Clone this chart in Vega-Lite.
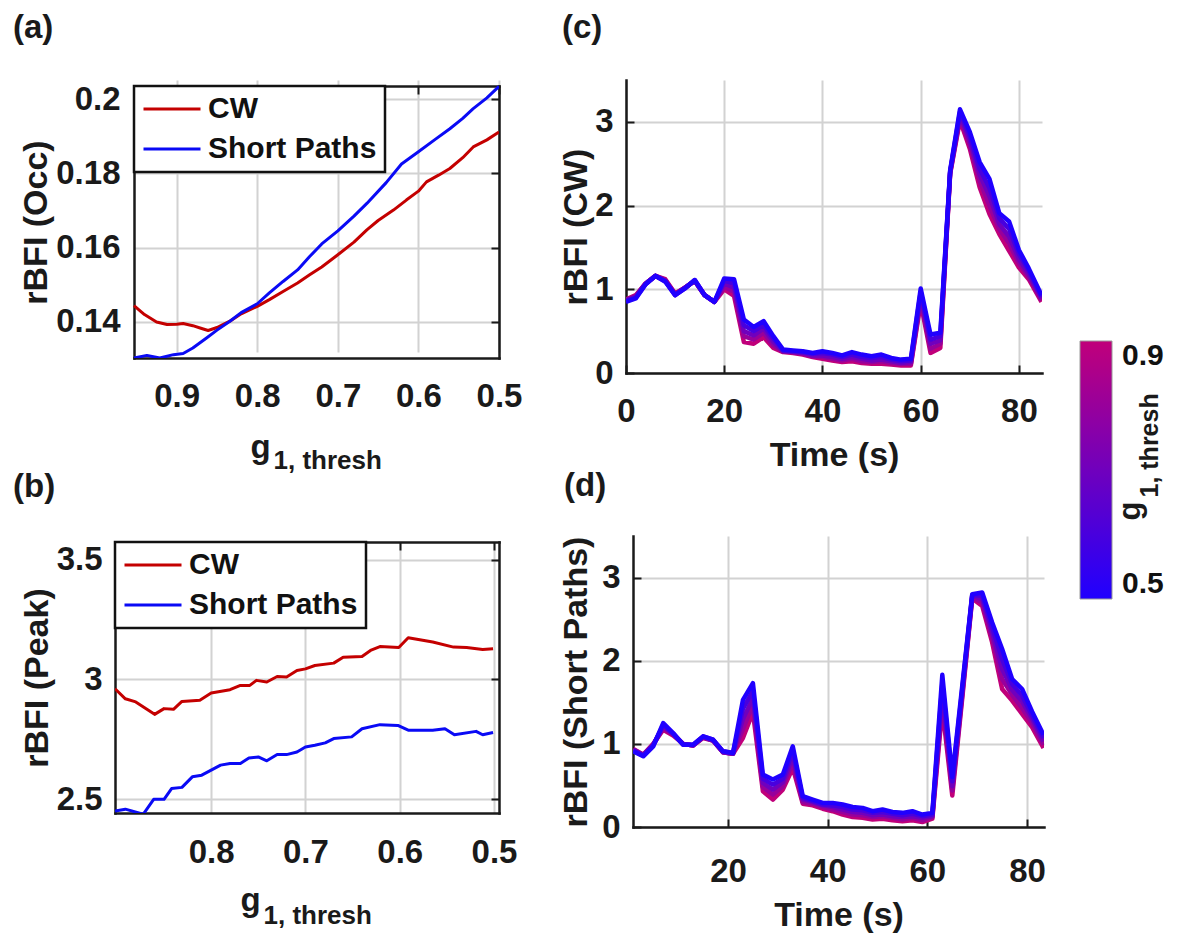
{
"$schema":"https://vega.github.io/schema/vega-lite/v6.json",
"padding":{"left":13,"top":12,"right":5,"bottom":5},
"config":{
 "font":"Liberation Sans",
 "view":{"stroke":null},
 "axis":{"labelFont":"Liberation Sans","labelFontSize":33,"labelFontWeight":"bold","labelColor":"#1a1a1a","titleFont":"Liberation Sans","titleFontSize":34,"titleFontWeight":"bold","titleColor":"#1a1a1a","domainColor":"#1a1a1a","domainWidth":2.5,"domainCap":"square","tickColor":"#1a1a1a","tickWidth":2,"gridColor":"#d2d2d2","gridWidth":2,"labelFlush":false,"labelOverlap":false,"ticks":false},
 "legend":{"strokeWidth":2.5,"labelFont":"Liberation Sans"},
 "title":{"font":"Liberation Sans","fontSize":33,"fontWeight":"bold","color":"#1a1a1a","anchor":"start","frame":"group"},
 "line":{"strokeJoin":"round"}
},
"datasets":{
"A":[
{"s":"CW","g":0.953,"v":0.1444},{"s":"CW","g":0.94,"v":0.1420},{"s":"CW","g":0.925,"v":0.1400},{"s":"CW","g":0.912,"v":0.1393},{"s":"CW","g":0.90,"v":0.1394},{"s":"CW","g":0.892,"v":0.1396},{"s":"CW","g":0.88,"v":0.1390},{"s":"CW","g":0.87,"v":0.1383},{"s":"CW","g":0.861,"v":0.1377},{"s":"CW","g":0.85,"v":0.1385},{"s":"CW","g":0.834,"v":0.1402},{"s":"CW","g":0.82,"v":0.1422},{"s":"CW","g":0.80,"v":0.1442},{"s":"CW","g":0.785,"v":0.1460},{"s":"CW","g":0.768,"v":0.1482},{"s":"CW","g":0.75,"v":0.1505},{"s":"CW","g":0.735,"v":0.1527},{"s":"CW","g":0.72,"v":0.1548},{"s":"CW","g":0.70,"v":0.1581},{"s":"CW","g":0.68,"v":0.1615},{"s":"CW","g":0.664,"v":0.1648},{"s":"CW","g":0.65,"v":0.1673},{"s":"CW","g":0.631,"v":0.1701},{"s":"CW","g":0.615,"v":0.1728},{"s":"CW","g":0.60,"v":0.1752},{"s":"CW","g":0.59,"v":0.1777},{"s":"CW","g":0.575,"v":0.1795},{"s":"CW","g":0.561,"v":0.1813},{"s":"CW","g":0.545,"v":0.1842},{"s":"CW","g":0.532,"v":0.1871},{"s":"CW","g":0.515,"v":0.1890},{"s":"CW","g":0.50,"v":0.1911},
{"s":"Short Paths","g":0.953,"v":0.1303},{"s":"Short Paths","g":0.937,"v":0.1310},{"s":"Short Paths","g":0.921,"v":0.1303},{"s":"Short Paths","g":0.904,"v":0.1312},{"s":"Short Paths","g":0.892,"v":0.1315},{"s":"Short Paths","g":0.88,"v":0.1330},{"s":"Short Paths","g":0.863,"v":0.1357},{"s":"Short Paths","g":0.85,"v":0.1378},{"s":"Short Paths","g":0.834,"v":0.1402},{"s":"Short Paths","g":0.82,"v":0.1425},{"s":"Short Paths","g":0.80,"v":0.1449},{"s":"Short Paths","g":0.785,"v":0.1478},{"s":"Short Paths","g":0.768,"v":0.1509},{"s":"Short Paths","g":0.75,"v":0.1540},{"s":"Short Paths","g":0.735,"v":0.1576},{"s":"Short Paths","g":0.72,"v":0.1610},{"s":"Short Paths","g":0.70,"v":0.1645},{"s":"Short Paths","g":0.68,"v":0.1685},{"s":"Short Paths","g":0.664,"v":0.1719},{"s":"Short Paths","g":0.64,"v":0.1775},{"s":"Short Paths","g":0.621,"v":0.1825},{"s":"Short Paths","g":0.60,"v":0.1858},{"s":"Short Paths","g":0.58,"v":0.1890},{"s":"Short Paths","g":0.561,"v":0.1920},{"s":"Short Paths","g":0.545,"v":0.1948},{"s":"Short Paths","g":0.532,"v":0.1974},{"s":"Short Paths","g":0.515,"v":0.2003},{"s":"Short Paths","g":0.50,"v":0.2034}
],
"B":[
{"s":"CW","g":0.902,"v":2.961},{"s":"CW","g":0.891,"v":2.919},{"s":"CW","g":0.880,"v":2.906},{"s":"CW","g":0.860,"v":2.854},{"s":"CW","g":0.850,"v":2.878},{"s":"CW","g":0.840,"v":2.875},{"s":"CW","g":0.831,"v":2.908},{"s":"CW","g":0.812,"v":2.913},{"s":"CW","g":0.80,"v":2.943},{"s":"CW","g":0.780,"v":2.957},{"s":"CW","g":0.769,"v":2.975},{"s":"CW","g":0.759,"v":2.975},{"s":"CW","g":0.752,"v":2.996},{"s":"CW","g":0.741,"v":2.989},{"s":"CW","g":0.730,"v":3.012},{"s":"CW","g":0.720,"v":3.010},{"s":"CW","g":0.709,"v":3.037},{"s":"CW","g":0.70,"v":3.044},{"s":"CW","g":0.690,"v":3.058},{"s":"CW","g":0.670,"v":3.068},{"s":"CW","g":0.660,"v":3.093},{"s":"CW","g":0.640,"v":3.096},{"s":"CW","g":0.631,"v":3.121},{"s":"CW","g":0.621,"v":3.137},{"s":"CW","g":0.601,"v":3.133},{"s":"CW","g":0.591,"v":3.174},{"s":"CW","g":0.565,"v":3.156},{"s":"CW","g":0.543,"v":3.135},{"s":"CW","g":0.529,"v":3.133},{"s":"CW","g":0.512,"v":3.125},{"s":"CW","g":0.501,"v":3.128},
{"s":"Short Paths","g":0.902,"v":2.450},{"s":"Short Paths","g":0.891,"v":2.458},{"s":"Short Paths","g":0.872,"v":2.437},{"s":"Short Paths","g":0.861,"v":2.499},{"s":"Short Paths","g":0.850,"v":2.499},{"s":"Short Paths","g":0.842,"v":2.544},{"s":"Short Paths","g":0.831,"v":2.549},{"s":"Short Paths","g":0.820,"v":2.593},{"s":"Short Paths","g":0.810,"v":2.600},{"s":"Short Paths","g":0.790,"v":2.642},{"s":"Short Paths","g":0.780,"v":2.649},{"s":"Short Paths","g":0.769,"v":2.649},{"s":"Short Paths","g":0.760,"v":2.672},{"s":"Short Paths","g":0.750,"v":2.676},{"s":"Short Paths","g":0.741,"v":2.660},{"s":"Short Paths","g":0.730,"v":2.686},{"s":"Short Paths","g":0.720,"v":2.686},{"s":"Short Paths","g":0.709,"v":2.697},{"s":"Short Paths","g":0.70,"v":2.718},{"s":"Short Paths","g":0.690,"v":2.725},{"s":"Short Paths","g":0.679,"v":2.735},{"s":"Short Paths","g":0.670,"v":2.753},{"s":"Short Paths","g":0.651,"v":2.760},{"s":"Short Paths","g":0.640,"v":2.794},{"s":"Short Paths","g":0.621,"v":2.811},{"s":"Short Paths","g":0.602,"v":2.808},{"s":"Short Paths","g":0.591,"v":2.788},{"s":"Short Paths","g":0.565,"v":2.788},{"s":"Short Paths","g":0.552,"v":2.794},{"s":"Short Paths","g":0.542,"v":2.769},{"s":"Short Paths","g":0.519,"v":2.783},{"s":"Short Paths","g":0.512,"v":2.769},{"s":"Short Paths","g":0.501,"v":2.778}
],
"C":[
{"g":0.9,"t":0,"v":0.88},{"g":0.9,"t":2,"v":0.93},{"g":0.9,"t":4,"v":1.07},{"g":0.9,"t":6,"v":1.16},{"g":0.9,"t":8,"v":1.12},{"g":0.9,"t":10,"v":0.95},{"g":0.9,"t":12,"v":1.02},{"g":0.9,"t":14,"v":1.10},{"g":0.9,"t":16,"v":0.93},{"g":0.9,"t":18,"v":0.85},{"g":0.9,"t":20,"v":1.00},{"g":0.9,"t":22,"v":0.92},{"g":0.9,"t":24,"v":0.37},{"g":0.9,"t":26,"v":0.35},{"g":0.9,"t":28,"v":0.43},{"g":0.9,"t":30,"v":0.30},{"g":0.9,"t":32,"v":0.25},{"g":0.9,"t":34,"v":0.24},{"g":0.9,"t":36,"v":0.22},{"g":0.9,"t":38,"v":0.19},{"g":0.9,"t":40,"v":0.17},{"g":0.9,"t":42,"v":0.15},{"g":0.9,"t":44,"v":0.13},{"g":0.9,"t":46,"v":0.14},{"g":0.9,"t":48,"v":0.12},{"g":0.9,"t":50,"v":0.11},{"g":0.9,"t":52,"v":0.11},{"g":0.9,"t":54,"v":0.10},{"g":0.9,"t":56,"v":0.09},{"g":0.9,"t":58,"v":0.09},{"g":0.9,"t":60,"v":0.84},{"g":0.9,"t":62,"v":0.24},{"g":0.9,"t":64,"v":0.30},{"g":0.9,"t":66,"v":2.38},{"g":0.9,"t":68,"v":3.02},{"g":0.9,"t":70,"v":2.68},{"g":0.9,"t":72,"v":2.22},{"g":0.9,"t":74,"v":1.90},{"g":0.9,"t":76,"v":1.66},{"g":0.9,"t":78,"v":1.46},{"g":0.9,"t":80,"v":1.26},{"g":0.9,"t":82,"v":1.12},{"g":0.9,"t":84.6,"v":0.85},
{"g":0.8,"t":0,"v":0.87},{"g":0.8,"t":2,"v":0.92},{"g":0.8,"t":4,"v":1.07},{"g":0.8,"t":6,"v":1.16},{"g":0.8,"t":8,"v":1.11},{"g":0.8,"t":10,"v":0.94},{"g":0.8,"t":12,"v":1.02},{"g":0.8,"t":14,"v":1.10},{"g":0.8,"t":16,"v":0.93},{"g":0.8,"t":18,"v":0.85},{"g":0.8,"t":20,"v":1.03},{"g":0.8,"t":22,"v":0.97},{"g":0.8,"t":24,"v":0.44},{"g":0.8,"t":26,"v":0.40},{"g":0.8,"t":28,"v":0.48},{"g":0.8,"t":30,"v":0.33},{"g":0.8,"t":32,"v":0.26},{"g":0.8,"t":34,"v":0.25},{"g":0.8,"t":36,"v":0.23},{"g":0.8,"t":38,"v":0.20},{"g":0.8,"t":40,"v":0.19},{"g":0.8,"t":42,"v":0.17},{"g":0.8,"t":44,"v":0.15},{"g":0.8,"t":46,"v":0.17},{"g":0.8,"t":48,"v":0.14},{"g":0.8,"t":50,"v":0.13},{"g":0.8,"t":52,"v":0.14},{"g":0.8,"t":54,"v":0.12},{"g":0.8,"t":56,"v":0.11},{"g":0.8,"t":58,"v":0.11},{"g":0.8,"t":60,"v":0.88},{"g":0.8,"t":62,"v":0.29},{"g":0.8,"t":64,"v":0.35},{"g":0.8,"t":66,"v":2.39},{"g":0.8,"t":68,"v":3.05},{"g":0.8,"t":70,"v":2.73},{"g":0.8,"t":72,"v":2.30},{"g":0.8,"t":74,"v":2.00},{"g":0.8,"t":76,"v":1.72},{"g":0.8,"t":78,"v":1.55},{"g":0.8,"t":80,"v":1.31},{"g":0.8,"t":82,"v":1.15},{"g":0.8,"t":84.6,"v":0.87},
{"g":0.7,"t":0,"v":0.87},{"g":0.7,"t":2,"v":0.91},{"g":0.7,"t":4,"v":1.07},{"g":0.7,"t":6,"v":1.16},{"g":0.7,"t":8,"v":1.10},{"g":0.7,"t":10,"v":0.94},{"g":0.7,"t":12,"v":1.02},{"g":0.7,"t":14,"v":1.10},{"g":0.7,"t":16,"v":0.93},{"g":0.7,"t":18,"v":0.85},{"g":0.7,"t":20,"v":1.07},{"g":0.7,"t":22,"v":1.02},{"g":0.7,"t":24,"v":0.50},{"g":0.7,"t":26,"v":0.45},{"g":0.7,"t":28,"v":0.53},{"g":0.7,"t":30,"v":0.37},{"g":0.7,"t":32,"v":0.26},{"g":0.7,"t":34,"v":0.25},{"g":0.7,"t":36,"v":0.24},{"g":0.7,"t":38,"v":0.21},{"g":0.7,"t":40,"v":0.21},{"g":0.7,"t":42,"v":0.19},{"g":0.7,"t":44,"v":0.17},{"g":0.7,"t":46,"v":0.19},{"g":0.7,"t":48,"v":0.17},{"g":0.7,"t":50,"v":0.15},{"g":0.7,"t":52,"v":0.16},{"g":0.7,"t":54,"v":0.14},{"g":0.7,"t":56,"v":0.12},{"g":0.7,"t":58,"v":0.13},{"g":0.7,"t":60,"v":0.92},{"g":0.7,"t":62,"v":0.35},{"g":0.7,"t":64,"v":0.39},{"g":0.7,"t":66,"v":2.40},{"g":0.7,"t":68,"v":3.08},{"g":0.7,"t":70,"v":2.78},{"g":0.7,"t":72,"v":2.37},{"g":0.7,"t":74,"v":2.11},{"g":0.7,"t":76,"v":1.78},{"g":0.7,"t":78,"v":1.63},{"g":0.7,"t":80,"v":1.36},{"g":0.7,"t":82,"v":1.18},{"g":0.7,"t":84.6,"v":0.89},
{"g":0.6,"t":0,"v":0.86},{"g":0.6,"t":2,"v":0.90},{"g":0.6,"t":4,"v":1.06},{"g":0.6,"t":6,"v":1.16},{"g":0.6,"t":8,"v":1.10},{"g":0.6,"t":10,"v":0.93},{"g":0.6,"t":12,"v":1.01},{"g":0.6,"t":14,"v":1.11},{"g":0.6,"t":16,"v":0.93},{"g":0.6,"t":18,"v":0.85},{"g":0.6,"t":20,"v":1.10},{"g":0.6,"t":22,"v":1.07},{"g":0.6,"t":24,"v":0.57},{"g":0.6,"t":26,"v":0.50},{"g":0.6,"t":28,"v":0.57},{"g":0.6,"t":30,"v":0.41},{"g":0.6,"t":32,"v":0.27},{"g":0.6,"t":34,"v":0.26},{"g":0.6,"t":36,"v":0.25},{"g":0.6,"t":38,"v":0.23},{"g":0.6,"t":40,"v":0.24},{"g":0.6,"t":42,"v":0.22},{"g":0.6,"t":44,"v":0.19},{"g":0.6,"t":46,"v":0.22},{"g":0.6,"t":48,"v":0.19},{"g":0.6,"t":50,"v":0.18},{"g":0.6,"t":52,"v":0.19},{"g":0.6,"t":54,"v":0.16},{"g":0.6,"t":56,"v":0.14},{"g":0.6,"t":58,"v":0.15},{"g":0.6,"t":60,"v":0.97},{"g":0.6,"t":62,"v":0.40},{"g":0.6,"t":64,"v":0.44},{"g":0.6,"t":66,"v":2.41},{"g":0.6,"t":68,"v":3.12},{"g":0.6,"t":70,"v":2.83},{"g":0.6,"t":72,"v":2.44},{"g":0.6,"t":74,"v":2.21},{"g":0.6,"t":76,"v":1.85},{"g":0.6,"t":78,"v":1.72},{"g":0.6,"t":80,"v":1.42},{"g":0.6,"t":82,"v":1.22},{"g":0.6,"t":84.6,"v":0.91},
{"g":0.5,"t":0,"v":0.85},{"g":0.5,"t":2,"v":0.89},{"g":0.5,"t":4,"v":1.06},{"g":0.5,"t":6,"v":1.16},{"g":0.5,"t":8,"v":1.09},{"g":0.5,"t":10,"v":0.93},{"g":0.5,"t":12,"v":1.01},{"g":0.5,"t":14,"v":1.11},{"g":0.5,"t":16,"v":0.93},{"g":0.5,"t":18,"v":0.85},{"g":0.5,"t":20,"v":1.13},{"g":0.5,"t":22,"v":1.12},{"g":0.5,"t":24,"v":0.64},{"g":0.5,"t":26,"v":0.55},{"g":0.5,"t":28,"v":0.62},{"g":0.5,"t":30,"v":0.44},{"g":0.5,"t":32,"v":0.28},{"g":0.5,"t":34,"v":0.27},{"g":0.5,"t":36,"v":0.26},{"g":0.5,"t":38,"v":0.24},{"g":0.5,"t":40,"v":0.26},{"g":0.5,"t":42,"v":0.24},{"g":0.5,"t":44,"v":0.21},{"g":0.5,"t":46,"v":0.25},{"g":0.5,"t":48,"v":0.22},{"g":0.5,"t":50,"v":0.20},{"g":0.5,"t":52,"v":0.22},{"g":0.5,"t":54,"v":0.18},{"g":0.5,"t":56,"v":0.16},{"g":0.5,"t":58,"v":0.17},{"g":0.5,"t":60,"v":1.01},{"g":0.5,"t":62,"v":0.46},{"g":0.5,"t":64,"v":0.48},{"g":0.5,"t":66,"v":2.42},{"g":0.5,"t":68,"v":3.15},{"g":0.5,"t":70,"v":2.88},{"g":0.5,"t":72,"v":2.52},{"g":0.5,"t":74,"v":2.32},{"g":0.5,"t":76,"v":1.91},{"g":0.5,"t":78,"v":1.81},{"g":0.5,"t":80,"v":1.47},{"g":0.5,"t":82,"v":1.25},{"g":0.5,"t":84.6,"v":0.93}
],
"D":[
{"g":0.9,"t":1,"v":0.94},{"g":0.9,"t":3,"v":0.87},{"g":0.9,"t":5,"v":1.00},{"g":0.9,"t":7,"v":1.17},{"g":0.9,"t":9,"v":1.10},{"g":0.9,"t":11,"v":1.00},{"g":0.9,"t":13,"v":0.98},{"g":0.9,"t":15,"v":1.07},{"g":0.9,"t":17,"v":1.04},{"g":0.9,"t":19,"v":0.90},{"g":0.9,"t":21,"v":0.88},{"g":0.9,"t":23,"v":1.07},{"g":0.9,"t":25,"v":1.38},{"g":0.9,"t":27,"v":0.43},{"g":0.9,"t":29,"v":0.33},{"g":0.9,"t":31,"v":0.45},{"g":0.9,"t":33,"v":0.71},{"g":0.9,"t":35,"v":0.28},{"g":0.9,"t":37,"v":0.26},{"g":0.9,"t":39,"v":0.22},{"g":0.9,"t":41,"v":0.19},{"g":0.9,"t":43,"v":0.15},{"g":0.9,"t":45,"v":0.12},{"g":0.9,"t":47,"v":0.11},{"g":0.9,"t":49,"v":0.09},{"g":0.9,"t":51,"v":0.10},{"g":0.9,"t":53,"v":0.08},{"g":0.9,"t":55,"v":0.07},{"g":0.9,"t":57,"v":0.08},{"g":0.9,"t":59,"v":0.06},{"g":0.9,"t":61,"v":0.10},{"g":0.9,"t":63,"v":1.43},{"g":0.9,"t":65,"v":0.38},{"g":0.9,"t":67,"v":1.55},{"g":0.9,"t":69,"v":2.75},{"g":0.9,"t":71,"v":2.66},{"g":0.9,"t":73,"v":2.22},{"g":0.9,"t":75,"v":1.66},{"g":0.9,"t":77,"v":1.52},{"g":0.9,"t":79,"v":1.36},{"g":0.9,"t":81,"v":1.20},{"g":0.9,"t":83.3,"v":0.95},
{"g":0.8,"t":1,"v":0.93},{"g":0.8,"t":3,"v":0.87},{"g":0.8,"t":5,"v":0.99},{"g":0.8,"t":7,"v":1.19},{"g":0.8,"t":9,"v":1.11},{"g":0.8,"t":11,"v":1.00},{"g":0.8,"t":13,"v":0.98},{"g":0.8,"t":15,"v":1.08},{"g":0.8,"t":17,"v":1.04},{"g":0.8,"t":19,"v":0.90},{"g":0.8,"t":21,"v":0.88},{"g":0.8,"t":23,"v":1.18},{"g":0.8,"t":25,"v":1.47},{"g":0.8,"t":27,"v":0.48},{"g":0.8,"t":29,"v":0.39},{"g":0.8,"t":31,"v":0.49},{"g":0.8,"t":33,"v":0.78},{"g":0.8,"t":35,"v":0.30},{"g":0.8,"t":37,"v":0.28},{"g":0.8,"t":39,"v":0.24},{"g":0.8,"t":41,"v":0.21},{"g":0.8,"t":43,"v":0.18},{"g":0.8,"t":45,"v":0.15},{"g":0.8,"t":47,"v":0.14},{"g":0.8,"t":49,"v":0.12},{"g":0.8,"t":51,"v":0.13},{"g":0.8,"t":53,"v":0.11},{"g":0.8,"t":55,"v":0.09},{"g":0.8,"t":57,"v":0.11},{"g":0.8,"t":59,"v":0.08},{"g":0.8,"t":61,"v":0.12},{"g":0.8,"t":63,"v":1.53},{"g":0.8,"t":65,"v":0.44},{"g":0.8,"t":67,"v":1.59},{"g":0.8,"t":69,"v":2.76},{"g":0.8,"t":71,"v":2.70},{"g":0.8,"t":73,"v":2.28},{"g":0.8,"t":75,"v":1.78},{"g":0.8,"t":77,"v":1.59},{"g":0.8,"t":79,"v":1.43},{"g":0.8,"t":81,"v":1.25},{"g":0.8,"t":83.3,"v":0.99},
{"g":0.7,"t":1,"v":0.93},{"g":0.7,"t":3,"v":0.86},{"g":0.7,"t":5,"v":0.99},{"g":0.7,"t":7,"v":1.21},{"g":0.7,"t":9,"v":1.12},{"g":0.7,"t":11,"v":1.00},{"g":0.7,"t":13,"v":0.98},{"g":0.7,"t":15,"v":1.08},{"g":0.7,"t":17,"v":1.04},{"g":0.7,"t":19,"v":0.90},{"g":0.7,"t":21,"v":0.88},{"g":0.7,"t":23,"v":1.30},{"g":0.7,"t":25,"v":1.55},{"g":0.7,"t":27,"v":0.53},{"g":0.7,"t":29,"v":0.45},{"g":0.7,"t":31,"v":0.54},{"g":0.7,"t":33,"v":0.84},{"g":0.7,"t":35,"v":0.33},{"g":0.7,"t":37,"v":0.30},{"g":0.7,"t":39,"v":0.26},{"g":0.7,"t":41,"v":0.24},{"g":0.7,"t":43,"v":0.21},{"g":0.7,"t":45,"v":0.18},{"g":0.7,"t":47,"v":0.17},{"g":0.7,"t":49,"v":0.14},{"g":0.7,"t":51,"v":0.15},{"g":0.7,"t":53,"v":0.13},{"g":0.7,"t":55,"v":0.12},{"g":0.7,"t":57,"v":0.13},{"g":0.7,"t":59,"v":0.11},{"g":0.7,"t":61,"v":0.13},{"g":0.7,"t":63,"v":1.63},{"g":0.7,"t":65,"v":0.49},{"g":0.7,"t":67,"v":1.62},{"g":0.7,"t":69,"v":2.78},{"g":0.7,"t":71,"v":2.74},{"g":0.7,"t":73,"v":2.34},{"g":0.7,"t":75,"v":1.90},{"g":0.7,"t":77,"v":1.65},{"g":0.7,"t":79,"v":1.51},{"g":0.7,"t":81,"v":1.30},{"g":0.7,"t":83.3,"v":1.03},
{"g":0.6,"t":1,"v":0.92},{"g":0.6,"t":3,"v":0.86},{"g":0.6,"t":5,"v":0.98},{"g":0.6,"t":7,"v":1.23},{"g":0.6,"t":9,"v":1.12},{"g":0.6,"t":11,"v":0.99},{"g":0.6,"t":13,"v":0.99},{"g":0.6,"t":15,"v":1.09},{"g":0.6,"t":17,"v":1.05},{"g":0.6,"t":19,"v":0.91},{"g":0.6,"t":21,"v":0.89},{"g":0.6,"t":23,"v":1.42},{"g":0.6,"t":25,"v":1.64},{"g":0.6,"t":27,"v":0.58},{"g":0.6,"t":29,"v":0.51},{"g":0.6,"t":31,"v":0.58},{"g":0.6,"t":33,"v":0.91},{"g":0.6,"t":35,"v":0.35},{"g":0.6,"t":37,"v":0.31},{"g":0.6,"t":39,"v":0.27},{"g":0.6,"t":41,"v":0.26},{"g":0.6,"t":43,"v":0.24},{"g":0.6,"t":45,"v":0.21},{"g":0.6,"t":47,"v":0.20},{"g":0.6,"t":49,"v":0.17},{"g":0.6,"t":51,"v":0.18},{"g":0.6,"t":53,"v":0.16},{"g":0.6,"t":55,"v":0.14},{"g":0.6,"t":57,"v":0.16},{"g":0.6,"t":59,"v":0.13},{"g":0.6,"t":61,"v":0.15},{"g":0.6,"t":63,"v":1.73},{"g":0.6,"t":65,"v":0.55},{"g":0.6,"t":67,"v":1.66},{"g":0.6,"t":69,"v":2.79},{"g":0.6,"t":71,"v":2.78},{"g":0.6,"t":73,"v":2.40},{"g":0.6,"t":75,"v":2.02},{"g":0.6,"t":77,"v":1.72},{"g":0.6,"t":79,"v":1.58},{"g":0.6,"t":81,"v":1.34},{"g":0.6,"t":83.3,"v":1.07},
{"g":0.5,"t":1,"v":0.91},{"g":0.5,"t":3,"v":0.85},{"g":0.5,"t":5,"v":0.97},{"g":0.5,"t":7,"v":1.25},{"g":0.5,"t":9,"v":1.13},{"g":0.5,"t":11,"v":0.99},{"g":0.5,"t":13,"v":0.99},{"g":0.5,"t":15,"v":1.09},{"g":0.5,"t":17,"v":1.05},{"g":0.5,"t":19,"v":0.91},{"g":0.5,"t":21,"v":0.89},{"g":0.5,"t":23,"v":1.53},{"g":0.5,"t":25,"v":1.73},{"g":0.5,"t":27,"v":0.63},{"g":0.5,"t":29,"v":0.57},{"g":0.5,"t":31,"v":0.63},{"g":0.5,"t":33,"v":0.97},{"g":0.5,"t":35,"v":0.37},{"g":0.5,"t":37,"v":0.33},{"g":0.5,"t":39,"v":0.29},{"g":0.5,"t":41,"v":0.29},{"g":0.5,"t":43,"v":0.27},{"g":0.5,"t":45,"v":0.24},{"g":0.5,"t":47,"v":0.23},{"g":0.5,"t":49,"v":0.19},{"g":0.5,"t":51,"v":0.21},{"g":0.5,"t":53,"v":0.18},{"g":0.5,"t":55,"v":0.17},{"g":0.5,"t":57,"v":0.19},{"g":0.5,"t":59,"v":0.15},{"g":0.5,"t":61,"v":0.17},{"g":0.5,"t":63,"v":1.83},{"g":0.5,"t":65,"v":0.60},{"g":0.5,"t":67,"v":1.70},{"g":0.5,"t":69,"v":2.80},{"g":0.5,"t":71,"v":2.82},{"g":0.5,"t":73,"v":2.46},{"g":0.5,"t":75,"v":2.14},{"g":0.5,"t":77,"v":1.78},{"g":0.5,"t":79,"v":1.66},{"g":0.5,"t":81,"v":1.39},{"g":0.5,"t":83.3,"v":1.11}
]
},
"columns":2,
"align":"none",
"spacing":{"row":-130,"column":37},
"resolve":{"scale":{"color":"independent"},"legend":{"color":"independent"}},
"concat":[
{
 "width":384,"height":278,
 "title":{"text":"(a)","dx":-102,"offset":35},
 "data":{"name":"A"},
 "encoding":{"color":{"field":"s","type":"nominal","scale":{"domain":["CW","Short Paths"],"range":["#c40000","#0a0af5"]},
   "legend":{"orient":"none","legendX":19,"legendY":6,"title":null,"symbolType":"stroke","symbolSize":3249,"symbolStrokeWidth":3,"clipHeight":30,"labelFontSize":30,"labelFontWeight":"bold","labelColor":"#111111","labelOffset":6,"labelLimit":400,"padding":8,"rowPadding":10,"strokeColor":"#111111","fillColor":"#ffffff"}}},
 "layer":[
  {"transform":[{"filter":{"field":"s","equal":"CW"}}],
   "mark":{"type":"line","strokeWidth":3,"clip":true},
   "encoding":{
    "x":{"field":"g","type":"quantitative","scale":{"domain":[0.5,0.953],"range":[384,19],"zero":false,"nice":false},
      "axis":{"orient":"bottom","values":[0.5,0.6,0.7,0.8,0.9],"format":"~g","labelPadding":22,"grid":true,"title":"g","titleX":135,"titleY":99,"titleAlign":"left","titleBaseline":"alphabetic","titleFontSize":33}},
    "y":{"field":"v","type":"quantitative","scale":{"domain":[0.1303,0.2035],"range":[278,6],"zero":false,"nice":false},
      "axis":{"orient":"left","offset":-19,"values":[0.14,0.16,0.18,0.2],"format":"~g","labelPadding":14,"grid":true,"title":"rBFI (Occ)","titlePadding":2}}
   }},
  {"transform":[{"filter":{"field":"s","equal":"Short Paths"}}],
   "mark":{"type":"line","strokeWidth":3,"clip":true},
   "encoding":{
    "x":{"field":"g","type":"quantitative","scale":{"domain":[0.5,0.953],"range":[384,19],"zero":false,"nice":false},
      "axis":{"orient":"top","offset":-6,"values":[0.5,0.6,0.7,0.8,0.9],"labels":false,"ticks":true,"tickSize":-8,"grid":false,"title":"1, thresh","titleX":158,"titleY":382,"titleAlign":"left","titleBaseline":"alphabetic","titleFontSize":26}},
    "y":{"field":"v","type":"quantitative","scale":{"domain":[0.1303,0.2035],"range":[278,6],"zero":false,"nice":false},
      "axis":{"orient":"right","values":[0.14,0.16,0.18,0.2],"labels":false,"ticks":true,"tickSize":-8,"grid":false,"title":null}}
   }}
 ],
 "resolve":{"axis":{"x":"independent","y":"independent"}}
},
{
 "width":416,"height":293,
 "title":{"text":"(c)","dx":-64,"offset":35},
 "data":{"name":"C"},
 "encoding":{"color":{"field":"g","type":"quantitative","scale":{"domain":[0.5,0.9],"range":["#2000ff","#c0007a"],"interpolate":"rgb"},
   "legend":{"orient":"none","legendX":454,"legendY":261,"direction":"vertical","gradientLength":258,"gradientThickness":32,"values":[0.5,0.9],"format":".1f","title":null,"labelFontSize":30,"labelFontWeight":"bold","labelColor":"#111111","labelOffset":10,"gradientStrokeColor":"#9a9a9a","gradientStrokeWidth":1,"padding":0}}},
 "layer":[
  {"transform":[{"filter":{"field":"g","equal":0.9}}],
   "mark":{"type":"line","strokeWidth":4.5,"clip":true},
   "encoding":{
    "x":{"field":"t","type":"quantitative","scale":{"domain":[0,84.7],"zero":false,"nice":false},
      "axis":{"orient":"bottom","values":[0,20,40,60,80],"labelPadding":22,"grid":true,"title":"Time (s)","titlePadding":10}},
    "y":{"field":"v","type":"quantitative","scale":{"domain":[0,3.5],"nice":false},
      "axis":{"orient":"left","values":[0,1,2,3],"labelPadding":13,"grid":true,"title":"rBFI (CW)","titlePadding":1}}
   }},
  {"transform":[{"filter":{"field":"g","equal":0.8}}],
   "mark":{"type":"line","strokeWidth":4.5,"clip":true},
   "encoding":{
    "x":{"field":"t","type":"quantitative","scale":{"domain":[0,84.7],"zero":false,"nice":false},
      "axis":{"orient":"bottom","values":[0,20,40,60,80],"labels":false,"domain":false,"ticks":true,"tickSize":-8,"grid":false,"title":null}},
    "y":{"field":"v","type":"quantitative","scale":{"domain":[0,3.5],"nice":false},
      "axis":{"orient":"left","values":[0,1,2,3],"labels":false,"domain":false,"ticks":true,"tickSize":-8,"grid":false,"title":null}}
   }},
  {"transform":[{"filter":{"field":"g","equal":0.7}}],
   "mark":{"type":"line","strokeWidth":4.5,"clip":true},
   "encoding":{
    "x":{"field":"t","type":"quantitative","scale":{"domain":[0,84.7],"zero":false,"nice":false},"axis":null},
    "y":{"field":"v","type":"quantitative","scale":{"domain":[0,3.5],"nice":false},
      "axis":{"orient":"right","labels":false,"domain":false,"ticks":false,"grid":false,"title":"g","titleAngle":270,"titleAlign":"left","titleBaseline":"alphabetic","titleX":97,"titleY":440,"titleFontSize":31}}
   }},
  {"transform":[{"filter":{"field":"g","equal":0.6}}],
   "mark":{"type":"line","strokeWidth":4.5,"clip":true},
   "encoding":{
    "x":{"field":"t","type":"quantitative","scale":{"domain":[0,84.7],"zero":false,"nice":false},"axis":null},
    "y":{"field":"v","type":"quantitative","scale":{"domain":[0,3.5],"nice":false},
      "axis":{"orient":"right","labels":false,"domain":false,"ticks":false,"grid":false,"title":"1, thresh","titleAngle":270,"titleAlign":"left","titleBaseline":"alphabetic","titleX":115,"titleY":417,"titleFontSize":25}}
   }},
  {"transform":[{"filter":{"field":"g","equal":0.5}}],
   "mark":{"type":"line","strokeWidth":4.5,"clip":true},
   "encoding":{
    "x":{"field":"t","type":"quantitative","scale":{"domain":[0,84.7],"zero":false,"nice":false},"axis":null},
    "y":{"field":"v","type":"quantitative","scale":{"domain":[0,3.5],"nice":false},"axis":null}
   }}
 ],
 "resolve":{"axis":{"x":"independent","y":"independent"}}
},
{
 "width":384,"height":271,
 "title":{"text":"(b)","dx":-102,"offset":37},
 "data":{"name":"B"},
 "encoding":{"color":{"field":"s","type":"nominal","scale":{"domain":["CW","Short Paths"],"range":["#c40000","#0a0af5"]},
   "legend":{"orient":"none","legendX":0,"legendY":0,"title":null,"symbolType":"stroke","symbolSize":3249,"symbolStrokeWidth":3,"clipHeight":30,"labelFontSize":30,"labelFontWeight":"bold","labelColor":"#111111","labelOffset":6,"labelLimit":400,"padding":8,"rowPadding":10,"strokeColor":"#111111","fillColor":"#ffffff"}}},
 "layer":[
  {"transform":[{"filter":{"field":"s","equal":"CW"}}],
   "mark":{"type":"line","strokeWidth":3,"clip":true},
   "encoding":{
    "x":{"field":"g","type":"quantitative","scale":{"domain":[0.4947,0.902],"reverse":true,"zero":false,"nice":false},
      "axis":{"orient":"bottom","values":[0.5,0.6,0.7,0.8],"format":"~g","labelPadding":23,"grid":true,"title":"g","titleX":125,"titleY":97,"titleAlign":"left","titleBaseline":"alphabetic","titleFontSize":33}},
    "y":{"field":"v","type":"quantitative","scale":{"domain":[2.442,3.574],"zero":false,"nice":false},
      "axis":{"orient":"left","values":[2.5,3,3.5],"format":"~g","labelPadding":13,"grid":true,"title":"rBFI (Peak)","titlePadding":2}}
   }},
  {"transform":[{"filter":{"field":"s","equal":"Short Paths"}}],
   "mark":{"type":"line","strokeWidth":3,"clip":true},
   "encoding":{
    "x":{"field":"g","type":"quantitative","scale":{"domain":[0.4947,0.902],"reverse":true,"zero":false,"nice":false},
      "axis":{"orient":"top","values":[0.5,0.6,0.7,0.8],"labels":false,"ticks":true,"tickSize":-8,"grid":false,"title":"1, thresh","titleX":148,"titleY":381,"titleAlign":"left","titleBaseline":"alphabetic","titleFontSize":26}},
    "y":{"field":"v","type":"quantitative","scale":{"domain":[2.442,3.574],"zero":false,"nice":false},
      "axis":{"orient":"right","values":[2.5,3,3.5],"labels":false,"ticks":true,"tickSize":-8,"grid":false,"title":null}}
   }}
 ],
 "resolve":{"axis":{"x":"independent","y":"independent"}}
},
{
 "width":411,"height":291,
 "title":{"text":"(d)","dx":-69,"offset":33},
 "data":{"name":"D"},
 "encoding":{"color":{"field":"g","type":"quantitative","scale":{"domain":[0.5,0.9],"range":["#2000ff","#c0007a"],"interpolate":"rgb"},"legend":null}},
 "layer":[
  {"transform":[{"filter":{"field":"g","oneOf":[0.9,0.8,0.7]}}],
   "mark":{"type":"line","strokeWidth":4.5,"clip":true},
   "encoding":{
    "x":{"field":"t","type":"quantitative","scale":{"domain":[0.94,83.4],"zero":false,"nice":false},
      "axis":{"orient":"bottom","values":[20,40,60,80],"labelPadding":28,"grid":true,"title":"Time (s)","titlePadding":10}},
    "y":{"field":"v","type":"quantitative","scale":{"domain":[0,3.5],"nice":false},
      "axis":{"orient":"left","values":[0,1,2,3],"labelPadding":13,"grid":true,"title":"rBFI (Short Paths)","titlePadding":8}}
   }},
  {"transform":[{"filter":{"field":"g","oneOf":[0.6,0.5]}}],
   "mark":{"type":"line","strokeWidth":4.5,"clip":true},
   "encoding":{
    "x":{"field":"t","type":"quantitative","scale":{"domain":[0.94,83.4],"zero":false,"nice":false},
      "axis":{"orient":"bottom","values":[20,40,60,80],"labels":false,"domain":false,"ticks":true,"tickSize":-8,"grid":false,"title":null}},
    "y":{"field":"v","type":"quantitative","scale":{"domain":[0,3.5],"nice":false},
      "axis":{"orient":"left","values":[0,1,2,3],"labels":false,"domain":false,"ticks":true,"tickSize":-8,"grid":false,"title":null}}
   }}
 ],
 "resolve":{"axis":{"x":"independent","y":"independent"}}
}
]
}
